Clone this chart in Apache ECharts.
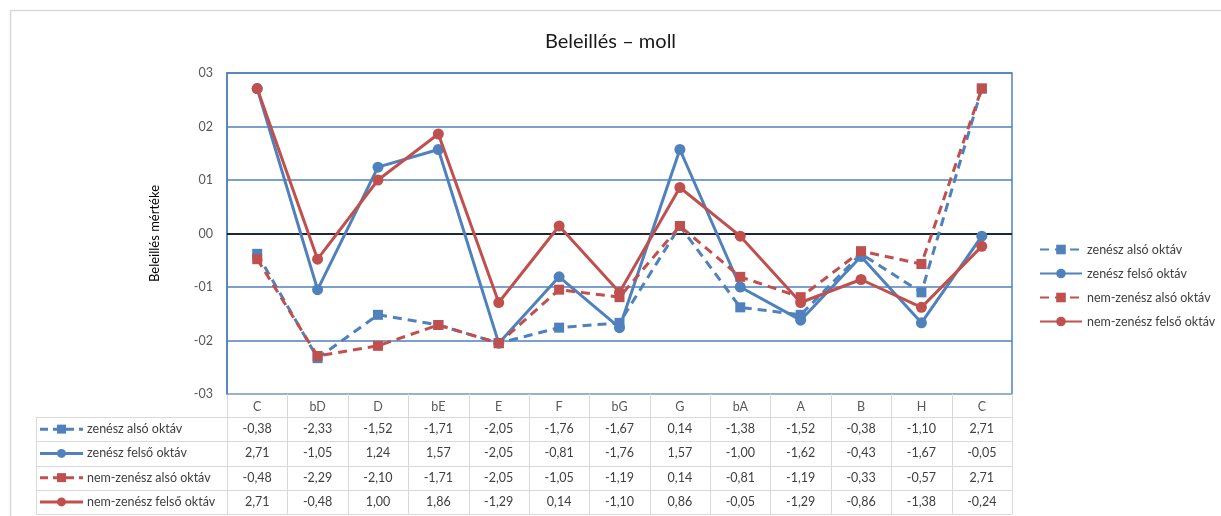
<!DOCTYPE html>
<html>
<head>
<meta charset="utf-8">
<script src="https://cdn.jsdelivr.net/npm/echarts@6/dist/echarts.min.js"></script>
<style>
  html, body { margin: 0; padding: 0; background: #fff; }
  #chart { width: 1221px; height: 516px; }
</style>
</head>
<body>
<div id="chart"></div>
<script>
// hangnemek (kategóriák)
const categories = ['C', 'bD', 'D', 'bE', 'E', 'F', 'bG', 'G', 'bA', 'A', 'B', 'H', 'C'];

const zeneszAlso = [-0.38, -2.33, -1.52, -1.71, -2.05, -1.76, -1.67, 0.14, -1.38, -1.52, -0.38, -1.10, 2.71];
const zeneszFelso = [2.71, -1.05, 1.24, 1.57, -2.05, -0.81, -1.76, 1.57, -1.00, -1.62, -0.43, -1.67, -0.05];
const nemZeneszAlso = [-0.48, -2.29, -2.10, -1.71, -2.05, -1.05, -1.19, 0.14, -0.81, -1.19, -0.33, -0.57, 2.71];
const nemZeneszFelso = [2.71, -0.48, 1.00, 1.86, -1.29, 0.14, -1.10, 0.86, -0.05, -1.29, -0.86, -1.38, -0.24];

const seriesNames = ['zenész alsó oktáv', 'zenész felső oktáv', 'nem-zenész alsó oktáv', 'nem-zenész felső oktáv'];
const yTickValues = [-3, -2, -1, 0, 1, 2, 3];
const yTickLabels = ['-03', '-02', '-01', '00', '01', '02', '03'];

const BLUE = '#4F81BD';
const RED = '#C0504D';
const GRID_LINE = '#D9D9D9';
const FONT = 'Lato, "Open Sans", sans-serif';

const gridLeft = 227, gridRight = 1012, gridTop = 73, gridBottom = 394;

const chart = echarts.init(document.getElementById('chart'));

const styles = [
  { color: BLUE, dashed: true, symbol: 'rect' },
  { color: BLUE, dashed: false, symbol: 'circle' },
  { color: RED, dashed: true, symbol: 'rect' },
  { color: RED, dashed: false, symbol: 'circle' }
];
const allData = [zeneszAlso, zeneszFelso, nemZeneszAlso, nemZeneszFelso];

const fmt = v => v.toFixed(2).replace('.', ',');

const series = allData.map((d, i) => {
  const s = {
    name: seriesNames[i],
    type: 'line',
    data: d,
    symbol: styles[i].symbol,
    symbolSize: styles[i].symbol === 'rect' ? 10 : 11,
    lineStyle: { color: styles[i].color, width: 3, type: styles[i].dashed ? [9, 6] : 'solid' },
    itemStyle: { color: styles[i].color },
    z: 3 + i,
    animation: false
  };
  if (i === 0) {
    s.markLine = {
      silent: true,
      symbol: 'none',
      label: { show: false },
      lineStyle: { color: '#000', type: 'solid', width: 1.5 },
      data: [{ yAxis: 0 }],
      z: 1
    };
  }
  return s;
});

const option = {
  animation: false,
  title: {
    text: 'Beleillés – moll',
    left: 'center',
    top: 27,
    textStyle: { fontFamily: FONT, fontSize: 20, fontWeight: 'normal', color: '#1a1a1a' }
  },
  legend: {
    orient: 'vertical',
    left: 1034,
    top: 238,
    itemGap: 11,
    itemWidth: 42,
    itemHeight: 12,
    textStyle: { fontFamily: FONT, fontSize: 12.5, color: '#404040' },
    data: seriesNames
  },
  grid: {
    left: gridLeft,
    right: 1221 - gridRight,
    top: gridTop,
    bottom: 516 - gridBottom,
    show: true,
    borderColor: BLUE,
    borderWidth: 1.5
  },
  xAxis: {
    type: 'category',
    data: categories,
    boundaryGap: true,
    axisLine: { show: false },
    axisTick: { show: false },
    axisLabel: { fontFamily: FONT, fontSize: 12.5, color: '#595959', margin: 6, interval: 0 }
  },
  yAxis: {
    type: 'value',
    min: -3,
    max: 3,
    interval: 1,
    name: 'Beleillés mértéke',
    nameLocation: 'middle',
    nameRotate: 90,
    nameGap: 66,
    nameTextStyle: { fontFamily: FONT, fontSize: 13, color: '#000' },
    axisLine: { show: true, lineStyle: { color: BLUE, width: 1.5 } },
    axisTick: { show: false },
    axisLabel: {
      fontFamily: FONT, fontSize: 12.5, color: '#595959', margin: 14,
      formatter: v => yTickLabels[yTickValues.indexOf(v)]
    },
    splitLine: { lineStyle: { color: BLUE, width: 1.5 } }
  },
  series: series
};

chart.setOption(option);

// adattábla a diagram alatt
function buildTable() {
  const g = [];
  const tableLeft = 36, headTop = gridBottom, rowTop = 417, rowH = 24.25;
  const nRows = allData.length;
  const bottom = rowTop + nRows * rowH;
  const half = (chart.convertToPixel({ xAxisIndex: 0 }, 1) - chart.convertToPixel({ xAxisIndex: 0 }, 0)) / 2;
  const lineStyle = { stroke: GRID_LINE, lineWidth: 1 };

  // outer frame of the chart object
  g.push({ type: 'polyline', shape: { points: [[10.5, 516], [10.5, 10.5], [1221, 10.5]] }, style: { stroke: '#D9D9D9', lineWidth: 1.5, fill: null }, silent: true });

  // horizontal lines
  g.push({ type: 'line', shape: { x1: gridLeft, y1: headTop, x2: gridRight, y2: headTop }, style: lineStyle, silent: true });
  for (let r = 0; r <= nRows; r++) {
    const y = Math.round(rowTop + r * rowH) + 0.5;
    g.push({ type: 'line', shape: { x1: tableLeft, y1: y, x2: gridRight, y2: y }, style: lineStyle, silent: true });
  }
  // vertical lines
  g.push({ type: 'line', shape: { x1: tableLeft + 0.5, y1: rowTop, x2: tableLeft + 0.5, y2: bottom }, style: lineStyle, silent: true });
  categories.forEach((c, i) => {
    const cx = chart.convertToPixel({ xAxisIndex: 0 }, i);
    const x = Math.round(cx + half) + 0.5;
    g.push({ type: 'line', shape: { x1: x, y1: headTop, x2: x, y2: bottom }, style: lineStyle, silent: true });
    if (i === 0) {
      const x0 = Math.round(cx - half) + 0.5;
      g.push({ type: 'line', shape: { x1: x0, y1: headTop, x2: x0, y2: bottom }, style: lineStyle, silent: true });
    }
  });

  // rows: legend key + values
  allData.forEach((d, r) => {
    const cy = rowTop + r * rowH + rowH / 2;
    const st = styles[r];
    g.push({ type: 'line', shape: { x1: 40, y1: cy, x2: 83, y2: cy },
      style: { stroke: st.color, lineWidth: 3, lineDash: st.dashed ? [8, 5] : null }, silent: true });
    if (st.symbol === 'rect') {
      g.push({ type: 'rect', shape: { x: 57, y: cy - 4.5, width: 9, height: 9 }, style: { fill: st.color }, silent: true });
    } else {
      g.push({ type: 'circle', shape: { cx: 61.5, cy: cy, r: 4.5 }, style: { fill: st.color }, silent: true });
    }
    g.push({ type: 'text', x: 87, y: cy,
      style: { text: seriesNames[r], fontFamily: FONT, fontSize: 12.5, fill: '#404040', verticalAlign: 'middle', align: 'left' }, silent: true });
    d.forEach((v, i) => {
      const cx = chart.convertToPixel({ xAxisIndex: 0 }, i);
      g.push({ type: 'text', x: cx, y: cy,
        style: { text: fmt(v), fontFamily: FONT, fontSize: 12.5, fill: '#404040', align: 'center', verticalAlign: 'middle' }, silent: true });
    });
  });
  chart.setOption({ graphic: g });
}
buildTable();
</script>
</body>
</html>
